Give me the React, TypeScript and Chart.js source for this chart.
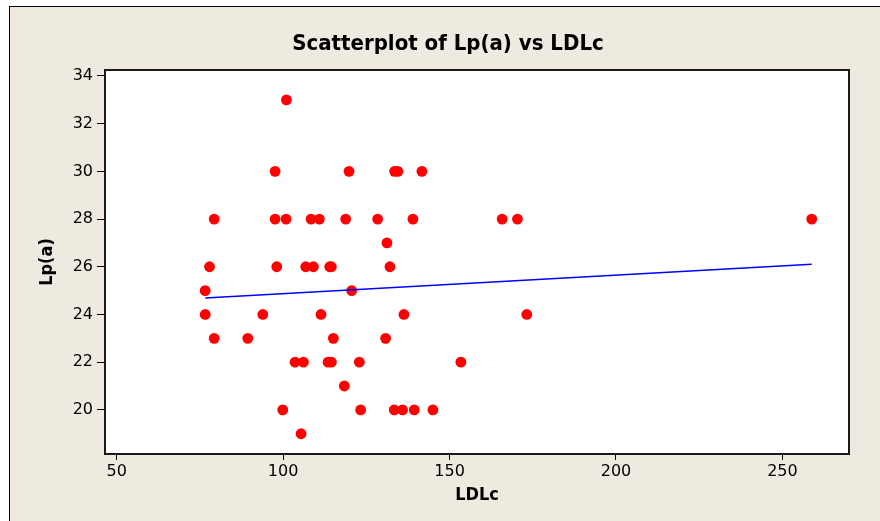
import React, { useEffect, useRef } from "react";
import { Chart, registerables } from "chart.js";

Chart.register(...registerables);

const ldlValues = [
  101,
  97.6, 119.8, 133.5, 134.5, 141.7,
  79.3, 97.6, 100.9, 108.4, 110.9, 118.8, 128.4, 139.0, 165.8, 170.4, 258.8,
  131.2,
  77.9, 98.1, 106.8, 109.1, 114, 114.5, 132.1,
  76.6, 120.6,
  76.6, 93.9, 111.4, 136.3, 173.2,
  79.3, 89.4, 115.1, 130.8,
  103.6, 106.1, 113.5, 114.5, 122.9, 153.4,
  118.4,
  99.9, 123.3, 133.4, 135.9, 139.4, 145.0,
  105.4,
];
const lpaValues = [
  33,
  30, 30, 30, 30, 30,
  28, 28, 28, 28, 28, 28, 28, 28, 28, 28, 28,
  27,
  26, 26, 26, 26, 26, 26, 26,
  25, 25,
  24, 24, 24, 24, 24,
  23, 23, 23, 23,
  22, 22, 22, 22, 22, 22,
  21,
  20, 20, 20, 20, 20, 20,
  19,
];
// fitted regression line end points
const fitX = [76.6, 258.8];
const fitY = [24.69, 26.11];

const xTicks = [50, 100, 150, 200, 250];
const yTicks = [20, 22, 24, 26, 28, 30, 32, 34];

const chartTitle = "Scatterplot of Lp(a) vs LDLc";
const xTitle = "LDLc";
const yTitle = "Lp(a)";

const FONT = "'DejaVu Sans', Verdana, sans-serif";

const framePlugin = {
  id: "framePlugin",
  beforeDraw(chart: any) {
    const { ctx, chartArea } = chart;
    ctx.save();
    ctx.fillStyle = "#ffffff";
    ctx.fillRect(chartArea.left, chartArea.top, chartArea.right - chartArea.left, chartArea.bottom - chartArea.top);
    ctx.restore();
  },
  afterDraw(chart: any) {
    const { ctx, chartArea } = chart;
    ctx.save();
    ctx.strokeStyle = "#1a1a1a";
    ctx.lineWidth = 2;
    ctx.strokeRect(chartArea.left, chartArea.top, chartArea.right - chartArea.left, chartArea.bottom - chartArea.top);
    ctx.fillStyle = "#000";
    ctx.textAlign = "center";
    ctx.textBaseline = "middle";
    ctx.font = `bold 22px 'DejaVu Sans Condensed', ${FONT}`;
    ctx.fillText(chartTitle, 448, 44);
    ctx.font = `bold 18px 'DejaVu Sans Condensed', ${FONT}`;
    ctx.fillText(xTitle, (chartArea.left + chartArea.right) / 2, 495);
    ctx.translate(47, (chartArea.top + chartArea.bottom) / 2);
    ctx.rotate(-Math.PI / 2);
    ctx.fillText(yTitle, 0, 0);
    ctx.restore();
  },
};

export default function App() {
  const ref = useRef<HTMLCanvasElement>(null);
  useEffect(() => {
    if (!ref.current) return;
    const points = ldlValues.map((x, i) => ({ x, y: lpaValues[i] }));
    const fit = fitX.map((x, i) => ({ x, y: fitY[i] }));
    const tickFont = { family: FONT, size: 16 };
    const chart = new Chart(ref.current, {
      type: "scatter",
      data: {
        datasets: [
          {
            type: "line",
            data: fit,
            borderColor: "#0000ff",
            borderWidth: 1.5,
            pointRadius: 0,
            fill: false,
          } as any,
          {
            data: points,
            backgroundColor: "#ff0000",
            borderWidth: 0,
            pointRadius: 5.4,
          },
        ],
      },
      options: {
        responsive: false,
        animation: false,
        events: [],
        layout: { padding: { top: 70, right: 31, left: 0, bottom: 0 } },
        plugins: { legend: { display: false }, tooltip: { enabled: false }, title: { display: false } },
        scales: {
          x: {
            type: "linear",
            position: "bottom",
            min: 46.5,
            max: 270,
            afterFit(s: any) { s.height = 67; },
            afterBuildTicks(s: any) { s.ticks = xTicks.map((v) => ({ value: v })); },
            grid: { drawOnChartArea: false, drawTicks: true, tickLength: 6, color: "#000", lineWidth: 1 },
            border: { display: false },
            ticks: { font: tickFont, color: "#000", padding: 2, maxRotation: 0 },
          },
          y: {
            type: "linear",
            min: 18.15,
            max: 34.25,
            afterFit(s: any) { s.width = 105; },
            afterBuildTicks(s: any) { s.ticks = yTicks.map((v) => ({ value: v })); },
            grid: { drawOnChartArea: false, drawTicks: true, tickLength: 8, color: "#000", lineWidth: 1 },
            border: { display: false },
            ticks: { font: tickFont, color: "#000", padding: 4 },
          },
        },
      },
      plugins: [framePlugin],
    });
    return () => chart.destroy();
  }, []);
  return (
    <div style={{ position: "fixed", left: 0, top: 0, width: 880, height: 521, background: "#ffffff", overflow: "hidden" }}>
      <div style={{ position: "absolute", left: 9, top: 6, width: 900, height: 600, background: "#eeeae0", borderLeft: "1px solid #000", borderTop: "1px solid #000" }} />
      <canvas ref={ref} width={880} height={521} style={{ position: "absolute", left: 0, top: 0 }} />
    </div>
  );
}
